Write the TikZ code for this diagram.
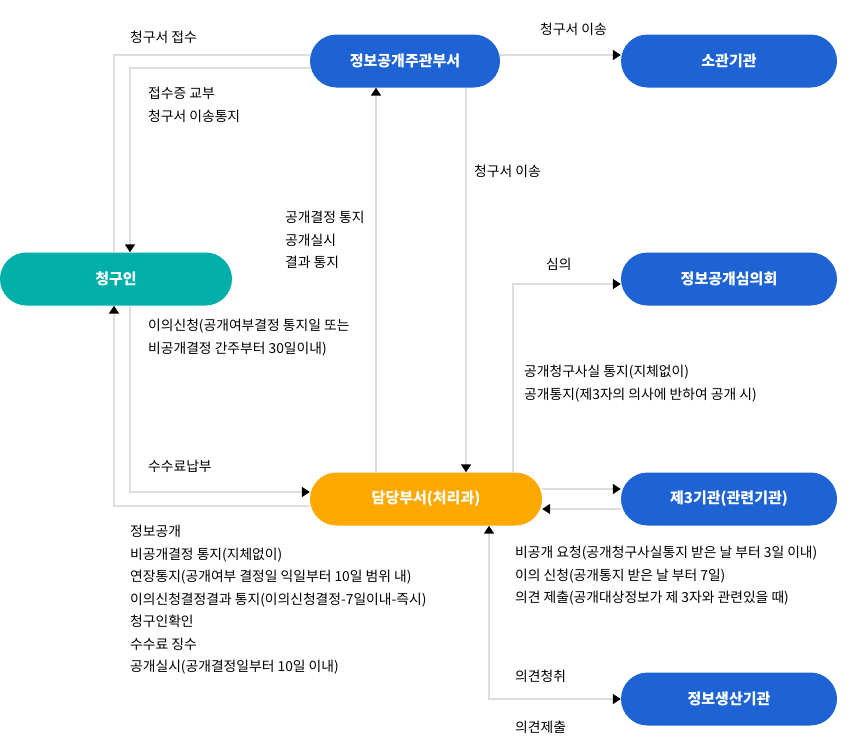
\documentclass[tikz,border=0pt]{standalone}
\usepackage{fontspec}
\setmainfont{Noto Sans CJK KR}
\usetikzlibrary{arrows.meta, positioning}
\definecolor{orgBlue}{HTML}{1D63D3}
\definecolor{orgTeal}{HTML}{00AFAA}
\definecolor{orgOrange}{HTML}{FFA800}
\tikzset{
    >={Triangle[length=8pt,width=10pt,black]}, % black arrow heads
    org/.style={rectangle, rounded corners=26.5pt, minimum height=53pt, text=white,
        font=\fontsize{15}{17}\selectfont\bfseries, inner sep=0pt},
    line/.style={draw=black!13, line width=1.6pt},
    lbl/.style={anchor=north west, inner sep=0pt, font=\fontsize{13.8}{22.5}\selectfont, align=left},
}
\begin{document}
\begin{tikzpicture}[x=1pt, y=-1pt]
    \useasboundingbox (0,0) rectangle (853,755);
    \node[org, fill=orgBlue, minimum width=190pt] (jg) at (405,61) {정보공개주관부서};
    \node[org, fill=orgBlue, minimum width=216pt] (sg) at (729,61) {소관기관};
    \node[org, fill=orgTeal, minimum width=232pt] (cg) at (116,279) {청구인};
    \node[org, fill=orgBlue, minimum width=216pt] (sw) at (729,279) {정보공개심의회};
    \node[org, fill=orgOrange, minimum width=232pt] (dd) at (426,499) {담당부서(처리과)};
    \node[org, fill=orgBlue, minimum width=216pt] (j3) at (729,499) {제3기관(관련기관)};
    \node[org, fill=orgBlue, minimum width=216pt] (sc) at (729,699) {정보생산기관};
    % connectors
    \draw[line] ([xshift=-2pt]cg.north) |- ([yshift=6pt]jg.west);
    \draw[line, ->] ([yshift=-7pt]jg.west) -| ([xshift=14pt]cg.north);
    \draw[line, ->] ([yshift=6pt]jg.east) -- ([yshift=6pt]sg.west);
    \draw[line, ->] ([xshift=-50pt]dd.north) -- ([xshift=-50pt]dd.north |- jg.south);
    \draw[line, ->] ([xshift=61pt]jg.south) -- ([xshift=61pt]jg.south |- dd.north);
    \draw[line, ->] ([xshift=87pt]dd.north) |- ([yshift=-5pt]sw.west);
    \draw[line, ->] ([xshift=14pt]cg.south) |- ([yshift=7pt]dd.west);
    \draw[line, ->] ([yshift=-7pt]dd.west) -| ([xshift=-2pt]cg.south);
    \draw[line, ->] ([yshift=10pt]dd.east) -- ([yshift=10pt]j3.west);
    \draw[line, ->] ([yshift=-10pt]j3.west) -- ([yshift=-10pt]dd.east);
    \draw[line, <->] ([xshift=63pt]dd.south) |- (sc.west);
    % labels
    \node[lbl] (l1) at (130,31) {청구서 접수};
    \node[lbl] (l2) at (148,87) {접수증 교부\\청구서 이송통지};
    \node[lbl] (l3) at (540,23) {청구서 이송};
    \node[lbl] (l4) at (474,165) {청구서 이송};
    \node[lbl] (l5) at (285,211) {공개결정 통지\\공개실시\\결과 통지};
    \node[lbl] (l6) at (546,258) {심의};
    \node[lbl] (l7) at (148,319) {이의신청(공개여부결정 통지일 또는\\비공개결정 간주부터 30일이내)};
    \node[lbl] (l8) at (524,365) {공개청구사실 통지(지체없이)\\공개통지(제3자의 의사에 반하여 공개 시)};
    \node[lbl] (l9) at (148,460) {수수료납부};
    \node[lbl] (l10) at (130,525) {정보공개\\비공개결정 통지(지체없이)\\연장통지(공개여부 결정일 익일부터 10일 범위 내)\\이의신청결정결과 통지(이의신청결정-7일이내-즉시)\\청구인확인\\수수료 징수\\공개실시(공개결정일부터 10일 이내)};
    \node[lbl] (l11) at (515,546) {비공개 요청(공개청구사실통지 받은 날 부터 3일 이내)\\이의 신청(공개통지 받은 날 부터 7일)\\의견 제출(공개대상정보가 제 3자와 관련있을 때)};
    \node[lbl] (l12) at (515,670) {의견청취};
    \node[lbl] (l13) at (515,721) {의견제출};
\end{tikzpicture}
\end{document}
